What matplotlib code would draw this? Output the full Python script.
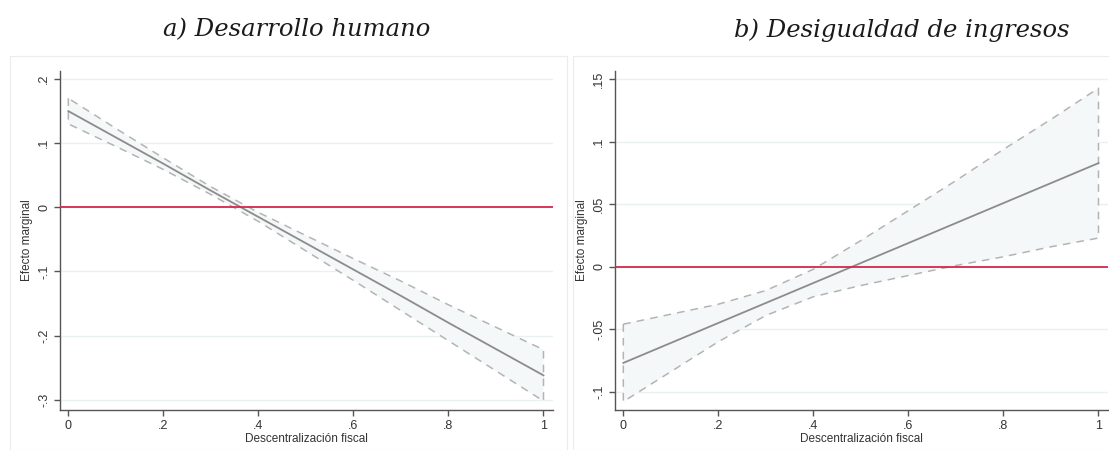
import matplotlib
matplotlib.use("Agg")
import matplotlib.pyplot as plt
from matplotlib.patches import Rectangle

# descentralización fiscal (puntos evaluados)
x = [0, 0.1, 0.2, 0.3, 0.4, 0.5, 0.6, 0.7, 0.8, 0.9, 1.0]

# a) desarrollo humano: efecto marginal y banda de confianza
dh_eff = [0.150, 0.109, 0.068, 0.026, -0.015, -0.056, -0.097, -0.138, -0.180, -0.221, -0.262]
dh_hi = [0.170, 0.123, 0.077, 0.032, -0.008, -0.044, -0.080, -0.115, -0.152, -0.187, -0.222]
dh_lo = [0.130, 0.095, 0.059, 0.020, -0.022, -0.068, -0.114, -0.161, -0.208, -0.255, -0.302]

# b) desigualdad de ingresos
di_eff = [-0.077, -0.061, -0.045, -0.029, -0.013, 0.003, 0.019, 0.035, 0.051, 0.067, 0.083]
di_hi = [-0.046, -0.038, -0.030, -0.019, -0.002, 0.021, 0.045, 0.069, 0.094, 0.118, 0.143]
di_lo = [-0.108, -0.084, -0.060, -0.039, -0.024, -0.015, -0.007, 0.001, 0.008, 0.016, 0.023]

xticks = [0, 0.2, 0.4, 0.6, 0.8, 1.0]
xlabels = ["0", ".2", ".4", ".6", ".8", "1"]
dh_yticks = [-0.3, -0.2, -0.1, 0, 0.1, 0.2]
dh_ylabels = ["-.3", "-.2", "-.1", "0", ".1", ".2"]
di_yticks = [-0.1, -0.05, 0, 0.05, 0.1, 0.15]
di_ylabels = ["-.1", "-.05", "0", ".05", ".1", ".15"]

plt.rcParams["font.family"] = ["Liberation Sans", "DejaVu Sans"]

fig = plt.figure(figsize=(11.09, 4.5), dpi=100)

# marcos de cada panel
for x0, w in [(10, 557), (573, 540)]:
    fig.patches.append(Rectangle((x0 / 1109, 0.0), w / 1109, 1 - 56 / 450,
                                 transform=fig.transFigure, fill=False,
                                 edgecolor="#ececec", linewidth=0.8))

ax1 = fig.add_axes([60 / 1109, 40 / 450, 493 / 1109, 339.3 / 450])
ax2 = fig.add_axes([615 / 1109, 40 / 450, 493 / 1109, 339.3 / 450])


def panel(ax, eff, lo, hi, yticks, ylabels, ylim):
    for yt in yticks:
        ax.axhline(yt, color="#e9f1f1", linewidth=1.0, zorder=0)
    ax.fill_between(x, lo, hi, facecolor="#f5f8f8", edgecolor="#b4b4b4",
                    linestyle=(0, (5, 4)), linewidth=1.1, zorder=1)
    ax.plot(x, eff, color="#8c8c8c", linewidth=1.3, zorder=2)
    ax.axhline(0, color="#d4284f", linewidth=1.3, zorder=3)
    ax.set_xlim(-0.0175, 1.02)
    ax.set_ylim(*ylim)
    ax.set_xticks(xticks)
    ax.set_xticklabels(xlabels)
    ax.set_yticks(yticks)
    ax.set_yticklabels(ylabels, rotation=90, va="center")
    for s in ["top", "right"]:
        ax.spines[s].set_visible(False)
    for s in ["left", "bottom"]:
        ax.spines[s].set_color("#555555")
        ax.spines[s].set_linewidth(1.0)
    ax.tick_params(colors="#555555", labelcolor="#333333", labelsize=9,
                   length=4, width=1.0, pad=3)
    ax.set_xlabel("Descentralización fiscal", fontsize=8.5, color="#333333", labelpad=1)
    ax.set_ylabel("Efecto marginal", fontsize=8.5, color="#333333", labelpad=4)


panel(ax1, dh_eff, dh_lo, dh_hi, dh_yticks, dh_ylabels, (-0.316, 0.213))
panel(ax2, di_eff, di_lo, di_hi, di_yticks, di_ylabels, (-0.1147, 0.157))

title_font = dict(family=["DejaVu Serif"], style="italic",
                  fontsize=17.5, color="#1a1a1a", ha="center", va="center")
fig.text(297 / 1109, 1 - 30 / 450, "a) Desarrollo humano", **title_font)
fig.text(902 / 1109, 1 - 30 / 450, "b) Desigualdad de ingresos", **title_font)

fig.savefig("out.png", dpi=100, facecolor="white")
